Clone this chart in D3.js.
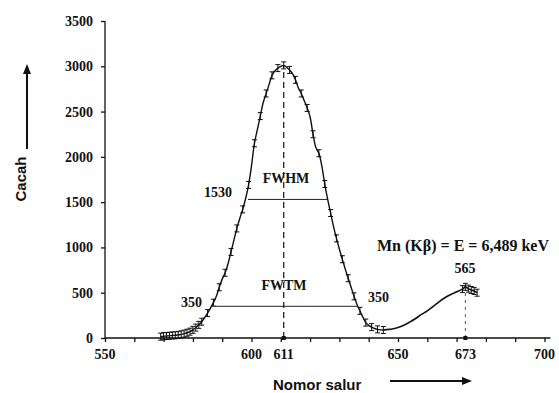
<!DOCTYPE html>
<html>
<head>
<meta charset="utf-8">
<script src="https://cdn.jsdelivr.net/npm/d3@7"></script>
<style>
  body { margin: 0; background: #fff; }
  svg { display: block; }
  .num { font-family: "Liberation Serif", serif; font-weight: bold; font-size: 14px; fill: #111; }
  .lbl { font-family: "Liberation Sans", Arial, sans-serif; font-weight: bold; font-size: 15px; fill: #111; }
</style>
</head>
<body>
<svg id="chart" width="559" height="393"></svg>
<script>
// main peak, channel vs counts
var channels = [569,570,571,572,573,574,575,576,577,578,579,580,581,582,583,584,585,586,587,588,589,590,
  591,592,593,594,595,596,597,598,599,600,601,602,603,604,605,606,607,608,609,610,611,612,613,614,615,616,
  617,618,619,620,621,622,623,624,625,626,627,628,629,630,631,632,633,634,635,636,637,638,639,640,641,642,643,644,645]
var counts = [15,20,22,25,28,30,35,40,48,58,70,90,115,145,180,225,275,330,390,460,560,650,
  720,820,950,1080,1210,1320,1420,1540,1690,1900,2150,2300,2450,2600,2700,2800,2900,2950,2980,3000,3010,2990,2960,2920,2850,2760,
  2700,2620,2540,2440,2250,2100,2040,1900,1700,1530,1380,1230,1100,980,870,760,660,560,460,370,300,230,170,140,120,105,95,90,88]

// Mn K-beta bump
var tailChannels = [645,646,647,648,650,652,654,656,658,660,662,664,666,668,670,672,673,674,675,676,677]
var tailCounts = [88,92,95,100,115,140,175,215,260,300,350,400,445,480,510,540,565,545,530,520,500]
var tailMarked = [671,672,673,674,675,676,677]

var xTicks = d3.range(550, 701, 10)
var xTickLabels = [550, 600, 611, 650, 673, 700]
var yTicks = [0, 500, 1000, 1500, 2000, 2500, 3000, 3500]

var fwhm = {level: 1530, from: 598.8, to: 625.8}
var fwtm = {level: 350, from: 587.5, to: 636}
var peakCh = 611, peakMax = 3010
var kbCh = 673, kbMax = 565

const svg = d3.select('#chart')
var ink = '#111'

x = d3.scaleLinear().domain([550, 700]).range([105, 544.5])
y = d3.scaleLinear().domain([0, 3500]).range([338, 21])

// axes
svg.append('g')
  .attr('transform', `translate(0,${y(0)})`)
  .call(d3.axisBottom(x).tickValues(xTicks).tickSize(4).tickFormat(''))
  .call(g => g.select('.domain').attr('d', `M${x(550)},0H${x(702)}`))
  .call(g => g.selectAll('line,path').attr('stroke', ink).attr('stroke-width', 1.3))

svg.append('g')
  .attr('transform', `translate(${x(550)},0)`)
  .call(d3.axisLeft(y).tickValues(yTicks).tickSize(4).tickFormat(''))
  .call(g => g.select('.domain').attr('d', `M0,${y(3500)}V${y(0)}`))
  .call(g => g.selectAll('line,path').attr('stroke', ink).attr('stroke-width', 1.3))

svg.append('g').selectAll('text').data(xTickLabels).enter()
  .append('text').attr('class', 'num')
  .attr('x', d => x(d)).attr('y', 359)
  .attr('text-anchor', 'middle')
  .text(d => d)

svg.append('g').selectAll('text').data(yTicks).enter()
  .append('text').attr('class', 'num')
  .attr('x', 93).attr('y', d => y(d) + 5)
  .attr('text-anchor', 'end')
  .text(d => d)

// dashed centre lines
svg.append('line')
  .attr('x1', x(peakCh)).attr('x2', x(peakCh))
  .attr('y1', y(0)).attr('y2', y(peakMax))
  .attr('stroke', ink).attr('stroke-width', 1.2).attr('stroke-dasharray', '6,4')
svg.append('line')
  .attr('x1', x(kbCh)).attr('x2', x(kbCh))
  .attr('y1', y(0)).attr('y2', y(kbMax))
  .attr('stroke', '#555').attr('stroke-width', 1).attr('stroke-dasharray', '3,4')
svg.append('g').selectAll('rect').data([peakCh, kbCh]).enter()
  .append('rect')
  .attr('x', d => x(d) - 2).attr('y', y(0) - 2)
  .attr('width', 4).attr('height', 4).attr('fill', ink)

// FWHM / FWTM
svg.append('g').selectAll('line').data([fwhm, fwtm]).enter()
  .append('line')
  .attr('x1', d => x(d.from)).attr('x2', d => x(d.to))
  .attr('y1', d => y(d.level)).attr('y2', d => y(d.level))
  .attr('stroke', '#222').attr('stroke-width', 1)

// curves
var main = channels.map((c, i) => ({c: c, v: counts[i]}))
var tail = tailChannels.map((c, i) => ({c: c, v: tailCounts[i]}))
var line = d3.line().x(d => x(d.c)).y(d => y(d.v)).curve(d3.curveCatmullRom)

svg.append('path').datum(main)
  .attr('d', line).attr('fill', 'none').attr('stroke', ink).attr('stroke-width', 1.4)
svg.append('path').datum(tail)
  .attr('d', line).attr('fill', 'none').attr('stroke', ink).attr('stroke-width', 1.6)

// little error-bar marks on the points (every other channel, denser at the foot)
var marked = main.filter((d, i) => i % 2 == 0 || d.c < 584)
  .concat(tail.filter(d => tailMarked.indexOf(d.c) >= 0))
var mk = svg.append('g').attr('stroke', ink).attr('stroke-width', 1)
mk.selectAll('.eb').data(marked).enter()
  .append('path')
  .attr('d', d => {
    var px = x(d.c), py = y(d.v)
    return `M${px},${py - 3.5}V${py + 3.5}M${px - 2.5},${py - 3.5}H${px + 2.5}M${px - 2.5},${py + 3.5}H${px + 2.5}`
  })
  .attr('fill', 'none')

// annotations
svg.append('text').attr('class', 'num').attr('x', 232).attr('y', 197).attr('text-anchor', 'end').text(fwhm.level)
svg.append('text').attr('class', 'num').attr('x', 202).attr('y', 307).attr('text-anchor', 'end').text(fwtm.level)
svg.append('text').attr('class', 'num').attr('x', 368).attr('y', 302).text(fwtm.level)
svg.append('text').attr('class', 'num').attr('x', 286).attr('y', 183).attr('text-anchor', 'middle').text('FWHM')
svg.append('text').attr('class', 'num').attr('x', 284).attr('y', 290).attr('text-anchor', 'middle').text('FWTM')
svg.append('text').attr('class', 'num').attr('x', 465).attr('y', 273).attr('text-anchor', 'middle').text(kbMax)
svg.append('text').attr('class', 'num').attr('x', 377).attr('y', 251).style('font-size', '16px').text('Mn (Kβ) = E = 6,489 keV')

// axis titles with arrows
svg.append('defs').append('marker')
  .attr('id', 'arr').attr('viewBox', '0 0 10 10').attr('refX', 8).attr('refY', 5)
  .attr('markerWidth', 5).attr('markerHeight', 5).attr('orient', 'auto')
  .append('path').attr('d', 'M0,1L10,5L0,9Z').attr('fill', ink)

svg.append('text').attr('class', 'lbl')
  .attr('transform', 'translate(26,179) rotate(-90)')
  .attr('text-anchor', 'middle').text('Cacah')
svg.append('line')
  .attr('x1', 27).attr('x2', 27).attr('y1', 149).attr('y2', 66)
  .attr('stroke', ink).attr('stroke-width', 2).attr('marker-end', 'url(#arr)')

svg.append('text').attr('class', 'lbl')
  .attr('x', 273).attr('y', 390).text('Nomor salur')
svg.append('line')
  .attr('x1', 390).attr('x2', 470).attr('y1', 381).attr('y2', 381)
  .attr('stroke', ink).attr('stroke-width', 2).attr('marker-end', 'url(#arr)')
</script>
</body>
</html>
